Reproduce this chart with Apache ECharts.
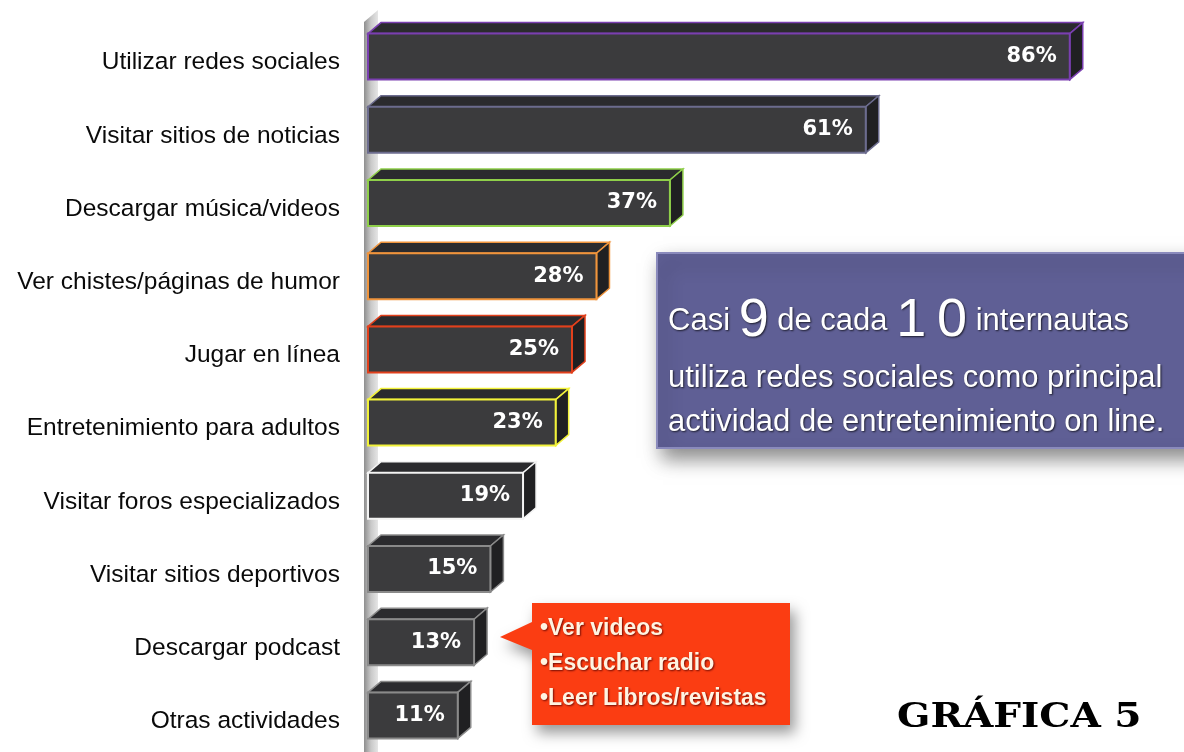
<!DOCTYPE html>
<html>
<head>
<meta charset="utf-8">
<script src="https://cdn.jsdelivr.net/npm/echarts@6/dist/echarts.min.js"></script>
<style>
  html, body { margin: 0; padding: 0; background: #ffffff; }
  #chart { width: 1184px; height: 752px; }
</style>
</head>
<body>
<div id="chart"></div>
<script>
// Actividades de entretenimiento en línea (% de internautas)
const categories = [
  'Utilizar redes sociales',
  'Visitar sitios de noticias',
  'Descargar música/videos',
  'Ver chistes/páginas de humor',
  'Jugar en línea',
  'Entretenimiento para adultos',
  'Visitar foros especializados',
  'Visitar sitios deportivos',
  'Descargar podcast',
  'Otras actividades'
];
const values = [86, 61, 37, 28, 25, 23, 19, 15, 13, 11];
const edgeColors = ['#7a3fb0', '#6c6c8e', '#8fcf4a', '#f0943c', '#e2401c', '#f2f23a', '#f4f4f4', '#8a8a8a', '#8a8a8a', '#8a8a8a'];
const noteLines = ['•Ver videos', '•Escuchar radio', '•Leer Libros/revistas'];

const BAR_H = 46;   // front face thickness
const DX = 13;      // depth offset to the right
const DY = 11;      // depth offset upward

// 3D-looking bar: top face, side face, front face, value and category label
function renderBar(params, api) {
  const v = api.value(0);
  const ci = api.value(1);
  const p0 = api.coord([0, ci]);
  const p1 = api.coord([v, ci]);
  const x0 = p0[0], x1 = p1[0], yc = p0[1];
  const yt = yc - BAR_H / 2, yb = yc + BAR_H / 2;
  const edge = edgeColors[params.dataIndex];
  return {
    type: 'group',
    children: [
      {
        type: 'polygon',
        shape: { points: [[x0, yt], [x0 + DX, yt - DY], [x1 + DX, yt - DY], [x1, yt]] },
        style: { fill: '#2b2b2e', stroke: edge, lineWidth: 1.5 }
      },
      {
        type: 'polygon',
        shape: { points: [[x1, yt], [x1 + DX, yt - DY], [x1 + DX, yb - DY], [x1, yb]] },
        style: { fill: '#202022', stroke: edge, lineWidth: 1.5 }
      },
      {
        type: 'rect',
        shape: { x: x0, y: yt, width: x1 - x0, height: BAR_H },
        style: { fill: '#3b3b3d', stroke: edge, lineWidth: 2 }
      },
      {
        type: 'text',
        style: {
          text: v + '%',
          x: x1 - 13,
          y: yc,
          align: 'right',
          verticalAlign: 'middle',
          fill: '#ffffff',
          font: 'bold 21px "DejaVu Sans", Verdana, sans-serif'
        }
      },
      {
        type: 'text',
        style: {
          text: categories[ci],
          x: x0 - 28,
          y: yc + 6,
          align: 'right',
          verticalAlign: 'middle',
          fill: '#0a0a0a',
          font: '24.5px "Liberation Sans", Arial, sans-serif'
        }
      }
    ]
  };
}

const boxTextStyle = {
  verticalAlign: 'middle',
  fill: '#ffffff',
  font: '31px "Liberation Sans", Arial, sans-serif',
  textShadowColor: 'rgba(0,0,0,0.7)',
  textShadowBlur: 2,
  textShadowOffsetX: 1,
  textShadowOffsetY: 1
};

const noteGraphics = noteLines.map((t, i) => ({
  type: 'text',
  z: 11,
  style: {
    x: 540, y: 629 + i * 35,
    text: t,
    verticalAlign: 'middle',
    fill: '#fff4e2',
    font: 'bold 23px "Liberation Sans", Arial, sans-serif',
    textShadowColor: 'rgba(80,0,0,0.8)',
    textShadowBlur: 2,
    textShadowOffsetX: 1,
    textShadowOffsetY: 1
  }
}));

const chart = echarts.init(document.getElementById('chart'), null, { renderer: 'canvas' });

chart.setOption({
  backgroundColor: '#ffffff',
  animation: false,
  grid: { left: 368, top: 20, width: 822, height: 734, containLabel: false },
  xAxis: {
    type: 'value',
    min: 0,
    max: 100,
    show: false
  },
  yAxis: {
    type: 'category',
    data: categories,
    inverse: true,
    axisLine: { show: false },
    axisTick: { show: false },
    splitLine: { show: false },
    axisLabel: { show: false }
  },
  graphic: [
    // vertical wall behind the bars
    {
      type: 'polygon',
      z: 0,
      shape: { points: [[364, 22], [378, 10], [378, 752], [364, 752]] },
      style: {
        fill: new echarts.graphic.LinearGradient(0, 0, 1, 0, [
          { offset: 0, color: '#8e8e8e' },
          { offset: 0.5, color: '#c9c9c9' },
          { offset: 1, color: '#e6e6e6' }
        ])
      }
    },
    // highlight box
    {
      type: 'rect',
      z: 10,
      shape: { x: 657, y: 253, width: 560, height: 195 },
      style: {
        fill: '#5f5f95',
        stroke: '#8a8abc',
        lineWidth: 2,
        shadowBlur: 18,
        shadowOffsetX: 6,
        shadowOffsetY: 10,
        shadowColor: 'rgba(0,0,0,0.45)'
      }
    },
    {
      type: 'text',
      z: 11,
      style: Object.assign({}, boxTextStyle, {
        x: 668, y: 321,
        text: 'Casi {big|9} de cada {big|1\u20090} internautas',
        rich: {
          big: {
            fontSize: 54,
            fontFamily: '"Liberation Sans", Arial, sans-serif',
            fill: '#ffffff',
            textShadowColor: 'rgba(0,0,0,0.7)',
            textShadowBlur: 2,
            textShadowOffsetX: 1,
            textShadowOffsetY: 1
          }
        }
      })
    },
    {
      type: 'text',
      z: 11,
      style: Object.assign({}, boxTextStyle, { x: 668, y: 378, text: 'utiliza redes sociales como principal' })
    },
    {
      type: 'text',
      z: 11,
      style: Object.assign({}, boxTextStyle, { x: 668, y: 422, text: 'actividad de entretenimiento on line.' })
    },
    // note box with pointer
    {
      type: 'polygon',
      z: 10,
      shape: { points: [[532, 603], [790, 603], [790, 725], [532, 725], [532, 650], [500, 637], [532, 622]] },
      style: {
        fill: '#fb3d12',
        shadowBlur: 14,
        shadowOffsetX: 5,
        shadowOffsetY: 8,
        shadowColor: 'rgba(0,0,0,0.4)'
      }
    }
  ].concat(noteGraphics, [
    // figure caption
    {
      type: 'text',
      z: 11,
      x: 897, y: 718,
      scaleX: 1.15,
      style: {
        x: 0, y: 0,
        text: 'GRÁFICA 5',
        verticalAlign: 'middle',
        fill: '#000000',
        font: 'bold 34px "DejaVu Serif", serif'
      }
    }
  ]),
  series: [{
    type: 'custom',
    renderItem: renderBar,
    encode: { x: 0, y: 1 },
    data: values.map((v, i) => [v, i]),
    z: 2
  }]
});
</script>
</body>
</html>
